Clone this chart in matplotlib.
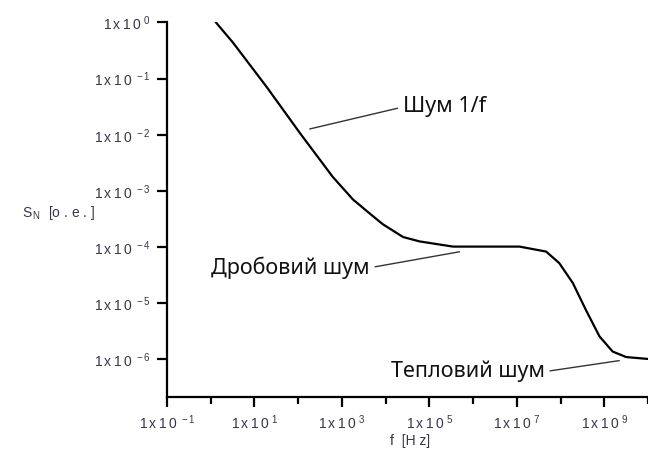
import matplotlib
matplotlib.use('Agg')
import matplotlib.pyplot as plt
import matplotlib.ticker as mticker
import numpy as np

plt.rcParams['font.family'] = ['Liberation Sans', 'DejaVu Sans']
plt.rcParams['mathtext.fontset'] = 'custom'
plt.rcParams['mathtext.rm'] = 'Liberation Sans'

# spectrum
freq = [1.32, 3.24, 19.1, 110, 617, 1780, 3720, 8510, 25100, 60300,
        3.47e5, 1.15e7, 4.68e7, 9.33e7, 1.91e8, 3.80e8, 7.76e8, 1.55e9,
        3.16e9, 9.55e9]
noise = [1.0, 0.437, 0.0708, 0.0107, 0.00178, 0.000708, 0.000437, 0.000257,
         0.000151, 0.000126, 0.000102, 0.000102, 8.32e-5, 5.19e-5, 2.29e-5,
         7.59e-6, 2.57e-6, 1.38e-6, 1.10e-6, 1.02e-6]

labels = ['Шум 1/f', 'Дробовий шум', 'Тепловий шум']
label_at = [(184, 1.27e-2), (4.9e5, 8.25e-5), (2.2e9, 9.5e-7)]
text_at = [(2.5e4, 3.13e-2), (4.3e3, 4.28e-5), (4.3e7, 6.04e-7)]

fig = plt.figure(figsize=(6.48, 4.59), dpi=100)
ax = fig.add_axes([0.2577, 0.1357, 0.7423, 0.8153])

ax.plot(freq, noise, color='black', lw=1.6, solid_joinstyle='round')
ax.set_xscale('log')
ax.set_yscale('log')
ax.set_xlim(0.1, 1e10)
ax.set_ylim(10 ** -6.665, 1.0)

for s in ['top', 'right']:
    ax.spines[s].set_visible(False)
for s in ['left', 'bottom']:
    ax.spines[s].set_linewidth(1.6)


def fmt(v, pos):
    e = int(round(np.log10(v)))
    return r'$\mathregular{1\,x\,1\,0^{\ %d}}$' % e


ax.set_xticks([10.0 ** k for k in range(-1, 10, 2)])
ax.set_xticks([10.0 ** k for k in range(0, 11, 2)], minor=True)
ax.set_yticks([10.0 ** -k for k in range(0, 7)])
ax.yaxis.set_minor_locator(mticker.NullLocator())
ax.xaxis.set_major_formatter(mticker.FuncFormatter(fmt))
ax.yaxis.set_major_formatter(mticker.FuncFormatter(fmt))
ax.xaxis.set_minor_formatter(mticker.NullFormatter())
ax.tick_params(which='major', length=7, width=1.6, labelsize=10,
               labelcolor='#3a3448', pad=5)
ax.tick_params(which='minor', length=5, width=1.6)

fig.text(0.034, 0.535, r'$\mathregular{S_{\,N}}$  [o . e . ]', fontsize=10,
         color='#3a3448', va='center', ha='left')
fig.text(0.633, 0.04, 'f  [H z]', fontsize=10, color='#3a3448',
         va='center', ha='center')

afont = ['Noto Sans', 'DejaVu Sans']
for i, (txt, xy, xt) in enumerate(zip(labels, label_at, text_at)):
    ha = 'left' if i == 0 else 'right'
    ax.annotate(txt, xy=xy, xytext=xt, textcoords='data', ha=ha, va='center',
                fontsize=15.5, family=afont, color='#111111',
                arrowprops=dict(arrowstyle='-', color='#333333', lw=1.0,
                                shrinkA=2, shrinkB=0,
                                relpos=(0, 0.5) if i == 0 else (1, 0.5)))

fig.savefig('out.png', dpi=100)
